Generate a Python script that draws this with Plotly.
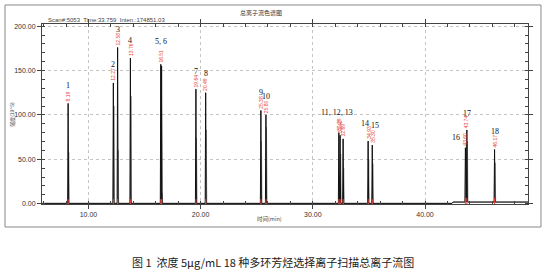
import numpy as np
import plotly.graph_objects as go

# ---- data ----
peak_times = [8.19, 12.22, 12.60, 13.74, 16.45, 16.52, 19.58, 20.45, 25.37, 25.82,
              32.32, 32.43, 32.70, 34.93, 35.30, 43.60, 43.73, 46.20]
peak_heights = [113, 136, 176, 164, 157, 155, 129, 125, 105, 100,
                80, 77, 73, 70.5, 66, 63, 83, 61]
ion2_heights = [58, 110, 60, 121, 150, 12, 74, 83, 70, 86,
                33, 56, 40, 50, 45, 60, 70, 46]
rt_labels = ["8.19", "12.27", "12.58", "13.76", "16.51", None, "19.64", "20.49", "25.38", "25.80",
             "32.29", "32.42", "32.69", "34.93", "35.30", "43.60", "43.74", "46.17"]
peak_names = ["1", "2", "3", "4", "5, 6", None, "7", "8", "9", "10",
              "11, 12, 13", None, None, "14", "15", "16", "17", "18"]
baseline_t = [5.86, 42.40, 42.50, 49.20]
baseline_v = [0.3, 0.3, 1.8, 1.8]

x_range = [5.86, 49.18]
y_range = [-0.4, 202.4]

# label placement style (pixel shifts), keyed by peak name
name_shift = {"5, 6": (0, 16), "11, 12, 13": (-2, 13.5), "14": (-3, 11.5), "15": (3, 13.5),
              "16": (-9, 4), "17": (0, 10), "8": (0, 12.5), "2": (0, 12)}

# ---- build traces from the peak table ----
W = 0.045
def build(heights, offset):
    xs, ys = [], []
    for i in np.argsort(peak_times):
        t = peak_times[i] + offset
        b = float(np.interp(t, baseline_t, baseline_v))
        xs += [t - W, t, t + W]
        ys += [b, heights[i], b]
    pts = sorted(list(zip(xs, ys)) + list(zip(baseline_t, baseline_v)))
    return [p[0] for p in pts], [p[1] for p in pts]

gx, gy = build(ion2_heights, 0.05)
bx, by = build(peak_heights, 0.0)

fig = go.Figure()
fig.add_trace(go.Scatter(x=gx, y=gy, mode="lines", line=dict(color="#8a8a8a", width=1),
                         hoverinfo="skip", showlegend=False))
fig.add_trace(go.Scatter(x=bx, y=by, mode="lines", line=dict(color="#111111", width=1),
                         hoverinfo="skip", showlegend=False))
fig.add_trace(go.Scatter(x=peak_times,
                         y=[float(np.interp(t, baseline_t, baseline_v)) + 0.8 for t in peak_times],
                         mode="markers",
                         marker=dict(symbol="line-ns", size=5, line=dict(color="#e8413a", width=1)),
                         hoverinfo="skip", showlegend=False))

ann = []
for i, t in enumerate(peak_times):
    h = peak_heights[i]
    if rt_labels[i]:
        ann.append(dict(x=t, y=h, xref="x", yref="y", text=rt_labels[i], showarrow=False,
                        textangle=-90, xanchor="center", yanchor="bottom", yshift=0,
                        font=dict(family="Liberation Sans", size=5, color="#e8413a")))
    if peak_names[i]:
        xs_, ys_ = name_shift.get(peak_names[i], (0, 11.5))
        ann.append(dict(x=t, y=h, xref="x", yref="y", text=peak_names[i], showarrow=False,
                        xanchor="center", yanchor="bottom", yshift=ys_, xshift=xs_,
                        font=dict(family="Liberation Serif", size=8, color="#111111")))

# texts
ann.append(dict(x=0.45, y=1.065, xref="paper", yref="paper", yanchor="middle", text="总离子流色谱图",
                showarrow=False, font=dict(family="Noto Sans CJK SC", size=6, color="#333")))
ann.append(dict(x=0.008, y=1.0, xref="paper", yref="paper", xanchor="left", yanchor="bottom", yshift=-1,
                text="Scan#:5053  Time:33.759  Inten.:174851.03", showarrow=False,
                font=dict(family="Liberation Sans", size=6, color="#444")))
ann.append(dict(x=0.469, y=-0.083, xref="paper", yref="paper", yanchor="middle", text="时间(min)",
                showarrow=False, font=dict(family="Noto Sans CJK SC", size=5.5, color="#444")))
ann.append(dict(x=-0.062, y=0.5, xref="paper", yref="paper", xanchor="center", yanchor="middle",
                text="强度(10^5)", textangle=-90,
                showarrow=False, font=dict(family="Noto Sans CJK SC", size=5, color="#444")))
ann.append(dict(x=0.475, y=-0.322, xref="paper", yref="paper", yanchor="middle",
                text="图 1  浓度 5μg/mL 18 种多环芳烃选择离子扫描总离子流图",
                showarrow=False, font=dict(family="Noto Sans CJK SC", size=11, color="#222")))

fig.update_layout(
    width=546, height=276, margin=dict(l=42, r=18, t=24, b=72),
    paper_bgcolor="white", plot_bgcolor="white",
    annotations=ann,
    shapes=[dict(type="rect", xref="paper", yref="paper", x0=-0.0761, x1=1.0267, y0=-0.1278, y1=1.1056,
                 line=dict(color="#888", width=1), layer="below")],
)
axis_common = dict(showline=True, linecolor="#444", linewidth=1, mirror="allticks",
                   ticks="outside", ticklen=4, tickcolor="#444",
                   showgrid=True, gridcolor="#c4c4c4", griddash="dot", gridwidth=1,
                   zeroline=False, tickformat=".2f",
                   tickfont=dict(family="Liberation Sans", size=7, color="#333"))
fig.update_xaxes(range=x_range, dtick=10, tick0=0,
                 minor=dict(dtick=2, ticks="inside", ticklen=3, tickcolor="#444", showgrid=False),
                 **axis_common)
fig.update_yaxes(range=y_range, dtick=50, tick0=0,
                 minor=dict(dtick=10, ticks="inside", ticklen=3, tickcolor="#444", showgrid=False),
                 **axis_common)

fig.write_html("out.html")
